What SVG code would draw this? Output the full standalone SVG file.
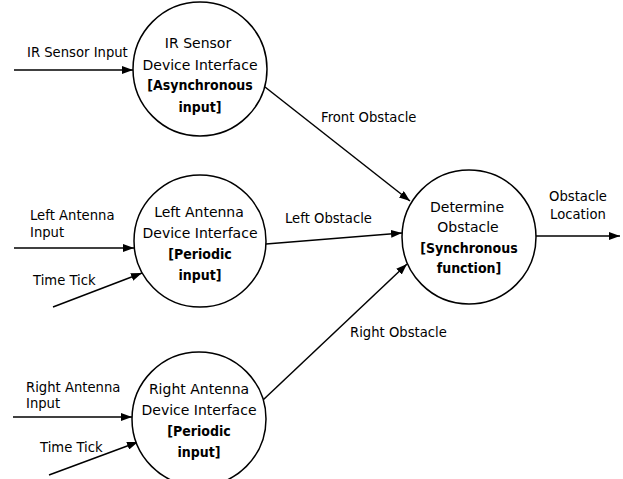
<svg xmlns="http://www.w3.org/2000/svg" width="623" height="479" viewBox="0 0 623 479">
<defs>
<marker id="ah" markerUnits="userSpaceOnUse" markerWidth="11" markerHeight="8" refX="11" refY="4" orient="auto">
<path d="M0,0 L11,4 L0,8 z" fill="#000"/>
</marker>
<style>
.c{fill:#fff;stroke:#000;stroke-width:1.5}
.t{font-family:"DejaVu Sans","Liberation Sans",sans-serif;font-size:14px;fill:#000;text-anchor:middle}
.b{font-family:"DejaVu Sans Condensed","DejaVu Sans",sans-serif;font-size:14px;font-weight:bold;fill:#000;text-anchor:middle}
.l{font-family:"DejaVu Sans","Liberation Sans",sans-serif;font-size:13.2px;fill:#000}
.e{fill:none;stroke:#000;stroke-width:1.5;marker-end:url(#ah)}
</style>
</defs>
<rect width="623" height="479" fill="#fff"/>
<g id="connectors">
<line class="e" x1="14" y1="70" x2="133" y2="70"/>
<line class="e" x1="14" y1="248" x2="134" y2="248"/>
<line class="e" x1="53" y1="307" x2="142" y2="273"/>
<line class="e" x1="13" y1="417" x2="132" y2="417"/>
<line class="e" x1="49" y1="475" x2="138" y2="442"/>
<line class="e" x1="265" y1="87" x2="410" y2="201"/>
<line class="e" x1="266" y1="244" x2="402" y2="233"/>
<line class="e" x1="263" y1="400" x2="407" y2="264"/>
<line class="e" x1="535" y1="236" x2="620" y2="236"/>
<text class="l" x="27" y="57">IR Sensor Input</text>
<text class="l" x="30" y="220">Left Antenna</text>
<text class="l" x="30" y="237">Input</text>
<text class="l" x="33" y="285">Time Tick</text>
<text class="l" x="26" y="392">Right Antenna</text>
<text class="l" x="26" y="408">Input</text>
<text class="l" x="40" y="452">Time Tick</text>
<text class="l" x="321" y="122">Front Obstacle</text>
<text class="l" x="285" y="223">Left Obstacle</text>
<text class="l" x="350" y="337">Right Obstacle</text>
<text class="l" x="578" y="201" text-anchor="middle">Obstacle</text>
<text class="l" x="578" y="219" text-anchor="middle">Location</text>
</g>
<g id="ir-sensor">
<circle class="c" cx="200" cy="69" r="67"/>
<text class="t" x="198" y="48">IR Sensor</text>
<text class="t" x="200" y="70">Device Interface</text>
<text class="b" x="200" y="90">[Asynchronous</text>
<text class="b" x="200" y="112">input]</text>
</g>
<g id="left-antenna">
<circle class="c" cx="200" cy="241" r="66"/>
<text class="t" x="199" y="217">Left Antenna</text>
<text class="t" x="200" y="238">Device Interface</text>
<text class="b" x="200" y="259">[Periodic</text>
<text class="b" x="200" y="280">input]</text>
</g>
<g id="right-antenna">
<circle class="c" cx="199" cy="419" r="67"/>
<text class="t" x="199" y="394">Right Antenna</text>
<text class="t" x="199" y="415">Device Interface</text>
<text class="b" x="199" y="436">[Periodic</text>
<text class="b" x="199" y="457">input]</text>
</g>
<g id="determine-obstacle">
<circle class="c" cx="469" cy="237" r="67"/>
<text class="t" x="467" y="212">Determine</text>
<text class="t" x="468" y="232">Obstacle</text>
<text class="b" x="469" y="253">[Synchronous</text>
<text class="b" x="469" y="273">function]</text>
</g>
</svg>
